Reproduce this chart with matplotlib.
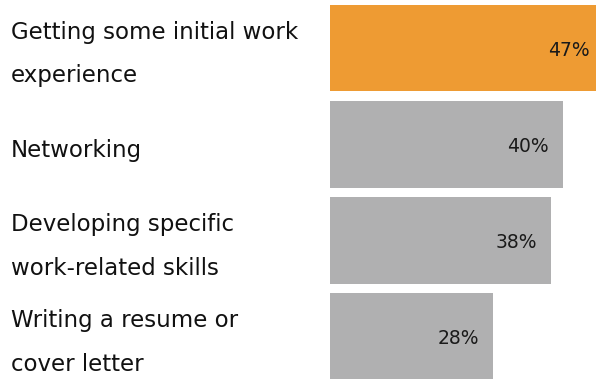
import matplotlib
matplotlib.use("Agg")
from matplotlib import pyplot as plt
from matplotlib import transforms

# dados da pesquisa
categorias = [
    "Getting some initial work\nexperience",
    "Networking",
    "Developing specific\nwork-related skills",
    "Writing a resume or\ncover letter",
]
percentuais = [47, 40, 38, 28]
rotulos = ["47%", "40%", "38%", "28%"]
cores = ["#EE9B33", "#B0B0B1", "#B0B0B1", "#B0B0B1"]

plt.rcParams["font.family"] = ["DejaVu Sans"]

fig = plt.figure(figsize=(5.96, 3.79), dpi=100)
ax = fig.add_axes([329.5 / 596, 0, 1 - 329.5 / 596, 1])

posicoes = list(range(len(categorias)))
ax.barh(posicoes, percentuais, height=0.9, color=cores, edgecolor="none")
ax.set_xlim(0, 45.7)
ax.set_ylim(3.44, -0.5)
ax.axis("off")

# valores dentro das barras, alinhados à direita
for p, v, r in zip(posicoes, percentuais, rotulos):
    ax.annotate(r, xy=(v, p), xytext=(-14, -2), textcoords="offset pixels",
                ha="right", va="center", fontsize=13.5, color="#1a1a1a",
                annotation_clip=False)

# nomes das categorias na margem esquerda
trans = transforms.blended_transform_factory(fig.transFigure, ax.transData)
for p, c in zip(posicoes, categorias):
    ax.annotate(c, xy=(11 / 596, p), xycoords=trans, xytext=(0, -6),
                textcoords="offset pixels", ha="left", va="center",
                fontsize=16.5, linespacing=2.15, color="#111111",
                annotation_clip=False)

fig.savefig("out.png", dpi=100)
